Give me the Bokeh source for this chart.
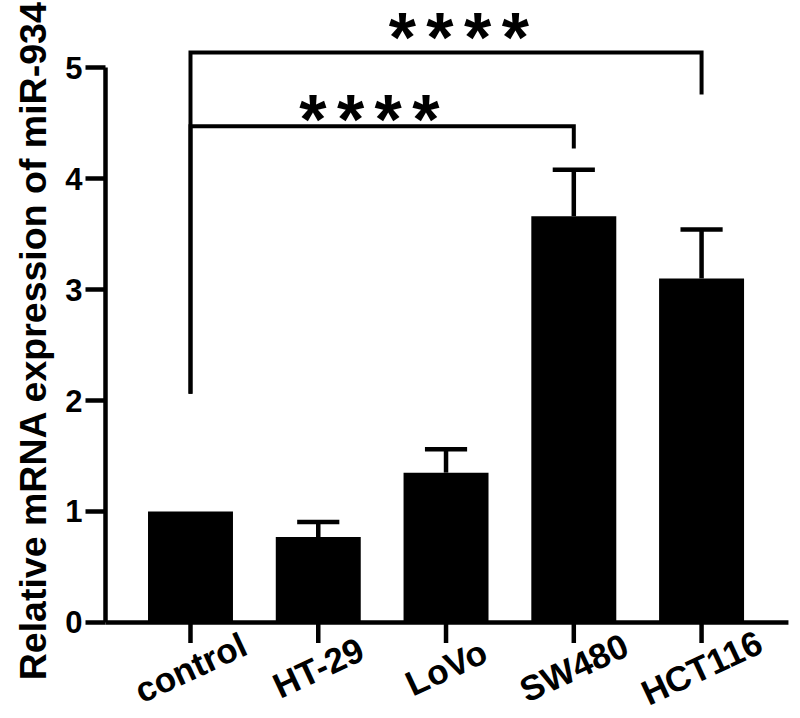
import math
from bokeh.plotting import figure
from bokeh.models import Range1d, FixedTicker
from bokeh.core.properties import value
from bokeh.embed import file_html
from bokeh.resources import INLINE

# ---- data ----
categories = ["control", "HT-29", "LoVo", "SW480", "HCT116"]
means = [1.0, 0.77, 1.35, 3.66, 3.10]
sd = [0.0, 0.135, 0.21, 0.42, 0.44]
y_ticks = [0, 1, 2, 3, 4, 5]
y_title = "Relative mRNA expression of miR-934"

# significance brackets (category index from -> to)
bracket_start = [0, 0]
bracket_end = [3, 4]
bracket_level = [4.47, 5.135]
bracket_left_drop = [2.06, 2.06]
bracket_right_drop = [4.27, 4.757]
bracket_label = ["****", "****"]
star_center = [1.40, 2.10]
star_base = [4.525, 5.27]

FONT = "Liberation Sans"
LW = 4.5
X0, X1 = -0.665, 4.68          # extent of the x axis line

x = list(range(len(categories)))

p = figure(width=796, height=714, output_backend="svg", toolbar_location=None,
           x_range=Range1d(-1.487, 4.743), y_range=Range1d(-0.829, 5.604),
           x_axis_location=None,
           min_border_left=0, min_border_right=0, min_border_top=0,
           min_border_bottom=0)
p.outline_line_color = None
p.grid.visible = False
p.background_fill_color = "white"

# bars
p.vbar(x=x, top=means, width=0.665, fill_color="black", line_color=None)

# upper error bars
ex = [xi for xi, s in zip(x, sd) if s > 0]
elo = [m for m, s in zip(means, sd) if s > 0]
ehi = [m + s for m, s in zip(means, sd) if s > 0]
p.segment(x0=ex, y0=elo, x1=ex, y1=ehi, line_width=LW, line_color="black")
p.segment(x0=[v - 0.165 for v in ex], y0=ehi, x1=[v + 0.165 for v in ex], y1=ehi,
          line_width=LW, line_color="black")

# x axis: baseline, ticks and rotated centred labels
p.segment(x0=[X0], y0=[0], x1=[X1], y1=[0], line_width=LW, line_color="black")
p.segment(x0=x, y0=[0] * len(x), x1=x, y1=[-0.185] * len(x),
          line_width=LW, line_color="black")
p.text(x=x, y=[-0.405] * len(x), text=categories, angle=math.radians(25),
       text_align="center", text_baseline="middle", text_font=value(FONT),
       text_font_style="bold", text_font_size="35px", text_color="black")

# brackets
bxs = [[a, a, b, b] for a, b in zip(bracket_start, bracket_end)]
bys = [[l, h, h, r] for l, h, r in zip(bracket_left_drop, bracket_level, bracket_right_drop)]
p.multi_line(xs=bxs, ys=bys, line_width=4, line_color="black", line_join="miter")

# stars
spacing = 0.295
sx, sy, st = [], [], []
for c, yb, lab in zip(star_center, star_base, bracket_label):
    n = len(lab)
    for k, ch in enumerate(lab):
        sx.append(c + (k - (n - 1) / 2) * spacing)
        sy.append(yb)
        st.append(ch)
p.text(x=sx, y=sy, text=st, text_font=value(FONT), text_font_style="bold",
       text_font_size="70px", text_align="center", text_baseline="alphabetic",
       text_color="black")

# y axis, pinned at the left end of the x axis line
p.yaxis.fixed_location = X0
p.yaxis.ticker = FixedTicker(ticks=y_ticks)
p.yaxis.bounds = (0, 5)
p.yaxis.axis_line_width = LW
p.yaxis.major_tick_line_width = LW
p.yaxis.major_tick_out = 20
p.yaxis.major_tick_in = 0
p.yaxis.minor_tick_out = 0
p.yaxis.minor_tick_in = 0
p.yaxis.major_label_text_font = FONT
p.yaxis.major_label_text_font_style = "bold"
p.yaxis.major_label_text_font_size = "31px"
p.yaxis.major_label_text_color = "black"
p.yaxis.major_label_standoff = 3

# y axis title
p.text(x=[-1.229], y=[2.54], text=[y_title], angle=math.pi / 2,
       text_align="center", text_baseline="alphabetic", text_font=value(FONT),
       text_font_style="bold", text_font_size="37.5px", text_color="black")

open("out.html", "w").write(file_html(p, INLINE))
